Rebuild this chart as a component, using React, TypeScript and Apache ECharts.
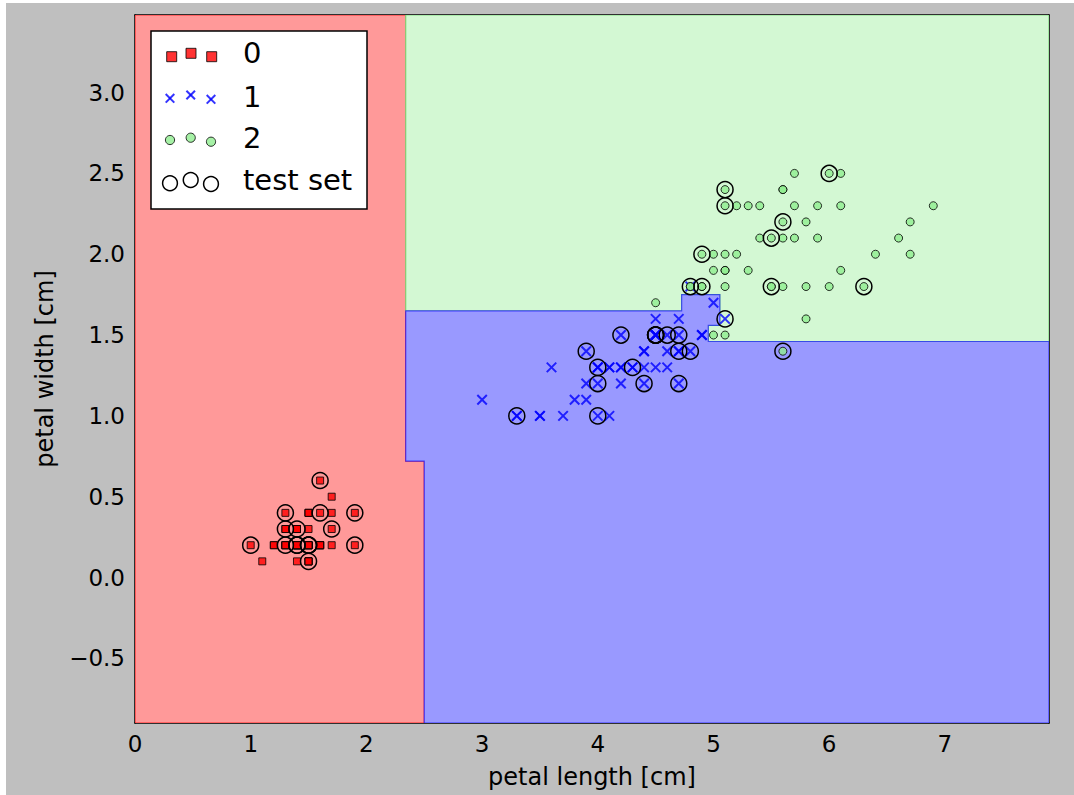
import React, { useEffect, useRef } from "react";
import * as echarts from "echarts";

// ---- Data (iris petal length / width) ----
const setosaLength = [1.4,1.4,1.3,1.5,1.4,1.7,1.4,1.5,1.4,1.5,1.5,1.6,1.4,1.1,1.2,1.5,1.3,1.4,1.7,1.5,1.7,1.5,1.0,1.7,1.9,1.6,1.6,1.5,1.4,1.6,1.6,1.5,1.5,1.4,1.5,1.2,1.3,1.5,1.3,1.5,1.3,1.3,1.3,1.6,1.9,1.4,1.6,1.4,1.5,1.4];
const setosaWidth = [0.2,0.2,0.2,0.2,0.2,0.4,0.3,0.2,0.2,0.1,0.2,0.2,0.1,0.1,0.2,0.4,0.4,0.3,0.3,0.3,0.2,0.4,0.2,0.5,0.2,0.2,0.4,0.2,0.2,0.2,0.2,0.4,0.1,0.2,0.1,0.2,0.2,0.1,0.2,0.2,0.3,0.3,0.2,0.6,0.4,0.3,0.2,0.2,0.2,0.2];
const versicolorLength = [4.7,4.5,4.9,4.0,4.6,4.5,4.7,3.3,4.6,3.9,3.5,4.2,4.0,4.7,3.6,4.4,4.5,4.1,4.5,3.9,4.8,4.0,4.9,4.7,4.3,4.4,4.8,5.0,4.5,3.5,3.8,3.7,3.9,5.1,4.5,4.5,4.7,4.4,4.1,4.0,4.4,4.6,4.0,3.3,4.2,4.2,4.2,4.3,3.0,4.1];
const versicolorWidth = [1.4,1.5,1.5,1.3,1.5,1.3,1.6,1.0,1.3,1.4,1.0,1.5,1.0,1.4,1.3,1.4,1.5,1.0,1.5,1.1,1.8,1.3,1.5,1.2,1.3,1.4,1.4,1.7,1.5,1.0,1.1,1.0,1.2,1.6,1.5,1.6,1.5,1.3,1.3,1.3,1.2,1.4,1.2,1.0,1.3,1.2,1.3,1.3,1.1,1.3];
const virginicaLength = [6.0,5.1,5.9,5.6,5.8,6.6,4.5,6.3,5.8,6.1,5.1,5.3,5.5,5.0,5.1,5.3,5.5,6.7,6.9,5.0,5.7,4.9,6.7,4.9,5.7,6.0,4.8,4.9,5.6,5.8,6.1,6.4,5.6,5.1,5.6,6.1,5.6,5.5,4.8,5.4,5.6,5.1,5.1,5.9,5.7,5.2,5.0,5.2,5.4,5.1];
const virginicaWidth = [2.5,1.9,2.1,1.8,2.2,2.1,1.7,1.8,1.8,2.5,2.0,1.9,2.1,2.0,2.4,2.3,1.8,2.2,2.3,1.5,2.3,2.0,2.0,1.8,2.1,1.8,1.8,1.8,2.1,1.6,1.9,2.0,2.2,1.5,1.4,2.3,2.4,1.8,1.8,2.1,2.4,2.3,1.9,2.3,2.5,2.3,1.9,2.0,2.3,1.8];
const testLength = [5.1,4.0,1.4,6.3,1.5,6.0,1.3,4.7,4.8,4.0,5.6,4.5,4.7,4.6,4.7,1.5,4.5,4.4,1.4,1.3,4.9,4.5,1.9,1.4,4.8,1.0,1.9,4.3,3.3,1.6,5.5,4.5,1.5,4.9,5.6,3.9,1.7,5.1,4.2,4.0,5.5,1.3,5.1,1.6,1.5];
const testWidth = [2.4,1.0,0.2,1.8,0.2,2.5,0.3,1.5,1.4,1.3,1.4,1.5,1.2,1.5,1.4,0.1,1.5,1.2,0.3,0.4,2.0,1.5,0.2,0.2,1.8,0.2,0.4,1.3,1.0,0.4,1.8,1.5,0.2,1.8,2.2,1.4,0.3,1.6,1.5,1.2,2.1,0.2,2.3,0.6,0.2];

const classLabels = ["0", "1", "2", "test set"];
const xTicks = [0, 1, 2, 3, 4, 5, 6, 7];
const yTicks = [-0.5, 0, 0.5, 1.0, 1.5, 2.0, 2.5, 3.0];
const xRange = [0, 7.9];
const yRange = [-0.9, 3.48];

// decision regions (vertices in data units)
const regionRed = [[0,-0.9],[2.5,-0.9],[2.5,0.72],[2.34,0.72],[2.34,3.48],[0,3.48]];
const regionGreen = [[2.34,1.65],[4.725,1.65],[4.725,1.75],[5.055,1.75],[5.055,1.56],[4.955,1.56],[4.955,1.46],[7.9,1.46],[7.9,3.48],[2.34,3.48]];
const regionBlue = [[2.5,-0.9],[7.9,-0.9],[7.9,1.46],[4.955,1.46],[4.955,1.56],[5.055,1.56],[5.055,1.75],[4.725,1.75],[4.725,1.65],[2.34,1.65],[2.34,0.72],[2.5,0.72]];

const regionPolys = [regionRed, regionGreen, regionBlue];
const regionFill = ["#ff9999", "#d3f8d3", "#9999ff"];
const regionStroke = ["rgba(255,0,0,0.7)", "rgba(120,220,120,0.9)", "rgba(0,0,255,0.6)"];

const zip = (a: number[], b: number[]) => a.map((v, i) => [v, b[i]]);

const OFFX = 6;
const OFFY = 3;
const FONT = "DejaVu Sans";
const LZ = 100;

function buildLegend() {
  const els: any[] = [];
  const P = (x: number, y: number) => [x - OFFX, y - OFFY];
  const [bx, by] = P(151, 31);
  els.push({ type: "rect", z: LZ, shape: { x: bx, y: by, width: 216, height: 178 }, style: { fill: "#fff", stroke: "#000", lineWidth: 1.5 } });
  const sq = [[171.7, 56.7], [191, 53.3], [211.7, 56.7]];
  sq.forEach(([x, y]) => {
    const [cx, cy] = P(x, y);
    els.push({ type: "rect", z: LZ + 1, shape: { x: cx - 5, y: cy - 5, width: 10, height: 10 }, style: { fill: "rgba(255,0,0,0.8)", stroke: "rgba(0,0,0,0.8)", lineWidth: 1 } });
  });
  const xs = [[170, 98.3], [190.7, 95], [211, 99.3]];
  xs.forEach(([x, y]) => {
    const [cx, cy] = P(x, y);
    const h = 4.3;
    els.push({ type: "line", z: LZ + 1, shape: { x1: cx - h, y1: cy - h, x2: cx + h, y2: cy + h }, style: { stroke: "rgba(0,0,255,0.8)", lineWidth: 2 } });
    els.push({ type: "line", z: LZ + 1, shape: { x1: cx - h, y1: cy + h, x2: cx + h, y2: cy - h }, style: { stroke: "rgba(0,0,255,0.8)", lineWidth: 2 } });
  });
  const gc = [[170, 140], [190.7, 137.7], [211, 141.7]];
  gc.forEach(([x, y]) => {
    const [cx, cy] = P(x, y);
    els.push({ type: "circle", z: LZ + 1, shape: { cx, cy, r: 4.6 }, style: { fill: "rgba(144,238,144,0.8)", stroke: "rgba(0,0,0,0.8)", lineWidth: 1 } });
  });
  const tc = [[170, 183.3], [190.7, 180], [211, 184]];
  tc.forEach(([x, y]) => {
    const [cx, cy] = P(x, y);
    els.push({ type: "circle", z: LZ + 1, shape: { cx, cy, r: 7.4 }, style: { fill: "rgba(0,0,0,0)", stroke: "#000", lineWidth: 1.5 } });
  });
  const ty = [53, 97, 138, 179.5];
  classLabels.forEach((t, i) => {
    const [tx, tyy] = P(243, ty[i]);
    els.push({ type: "text", z: LZ + 1, x: tx, y: tyy, style: { text: t, fontSize: 29, fontFamily: FONT, fill: "#000", verticalAlign: "middle", align: "left" } });
  });
  return els;
}

const fmtY = (v: number) => (v < 0 ? "\u2212" + Math.abs(v).toFixed(1) : v.toFixed(1));

export default function App() {
  const ref = useRef<HTMLDivElement>(null);
  useEffect(() => {
    if (!ref.current) return;
    const chart = echarts.init(ref.current, undefined, { renderer: "svg" });
    const axisLine = { show: true, onZero: false, lineStyle: { color: "#000", width: 1.5 } };
    const option: any = {
      animation: false,
      backgroundColor: "#bfbfbf",
      textStyle: { fontFamily: FONT },
      grid: { left: 135 - OFFX, top: 15 - OFFY, width: 914, height: 708, containLabel: false },
      xAxis: [
        {
          type: "value", position: "bottom", min: xRange[0], max: xRange[1],
          axisLine, splitLine: { show: false },
          axisTick: { show: true, inside: true, length: 5, customValues: xTicks, lineStyle: { color: "#000" } },
          axisLabel: { show: true, customValues: xTicks, margin: 9, fontSize: 23, color: "#000", fontFamily: FONT, formatter: (v: number) => String(v) },
          name: "petal length [cm]", nameLocation: "middle", nameGap: 42,
          nameTextStyle: { fontSize: 24, color: "#000", fontFamily: FONT },
        },
        {
          type: "value", position: "top", min: xRange[0], max: xRange[1],
          axisLine, splitLine: { show: false },
          axisTick: { show: true, inside: true, length: 5, customValues: xTicks, lineStyle: { color: "#000" } },
          axisLabel: { show: false },
        },
      ],
      yAxis: [
        {
          type: "value", position: "left", min: yRange[0], max: yRange[1],
          axisLine, splitLine: { show: false },
          axisTick: { show: true, inside: true, length: 5, customValues: yTicks, lineStyle: { color: "#000" } },
          axisLabel: { show: true, customValues: yTicks, margin: 10, fontSize: 23, color: "#000", fontFamily: FONT, formatter: fmtY },
          name: "petal width [cm]", nameLocation: "middle", nameGap: 78, nameRotate: 90,
          nameTextStyle: { fontSize: 24, color: "#000", fontFamily: FONT },
        },
        {
          type: "value", position: "right", min: yRange[0], max: yRange[1],
          axisLine, splitLine: { show: false },
          axisTick: { show: true, inside: true, length: 5, customValues: yTicks, lineStyle: { color: "#000" } },
          axisLabel: { show: false },
        },
      ],
      series: [
        {
          type: "custom", name: "regions", silent: true, clip: true, z: 1,
          data: regionPolys.map((p) => p[0]),
          renderItem: (params: any, api: any) => {
            const i = params.dataIndex;
            const pts = regionPolys[i].map((p) => api.coord(p));
            return { type: "polygon", shape: { points: pts }, style: { fill: regionFill[i], stroke: regionStroke[i], lineWidth: 1.2 } };
          },
        },
        {
          type: "scatter", name: classLabels[0], data: zip(setosaLength, setosaWidth), symbol: "rect", symbolSize: 7, z: 2, silent: true,
          itemStyle: { color: "red", borderColor: "#000", borderWidth: 1, opacity: 0.8 },
        },
        {
          type: "scatter", name: classLabels[1], data: zip(versicolorLength, versicolorWidth), symbol: "path://M0,0L10,10M10,0L0,10", symbolSize: 9.5, z: 3, silent: true,
          itemStyle: { color: "blue", borderColor: "blue", borderWidth: 2, opacity: 0.8 },
        },
        {
          type: "scatter", name: classLabels[2], data: zip(virginicaLength, virginicaWidth), symbol: "circle", symbolSize: 8, z: 4, silent: true,
          itemStyle: { color: "#90ee90", borderColor: "#000", borderWidth: 1, opacity: 0.8 },
        },
        {
          type: "scatter", name: classLabels[3], data: zip(testLength, testWidth), symbol: "circle", symbolSize: 16, z: 5, silent: true,
          itemStyle: { color: "rgba(0,0,0,0)", borderColor: "#000", borderWidth: 1.5, opacity: 1 },
        },
      ],
      graphic: { elements: buildLegend() },
    };
    chart.setOption(option);
    return () => chart.dispose();
  }, []);
  return (
    <div style={{ position: "fixed", left: 0, top: 0, width: 1074, height: 795, background: "#fff" }}>
      <div ref={ref} style={{ position: "absolute", left: OFFX, top: OFFY, width: 1074 - OFFX, height: 795 - OFFY }} />
    </div>
  );
}
